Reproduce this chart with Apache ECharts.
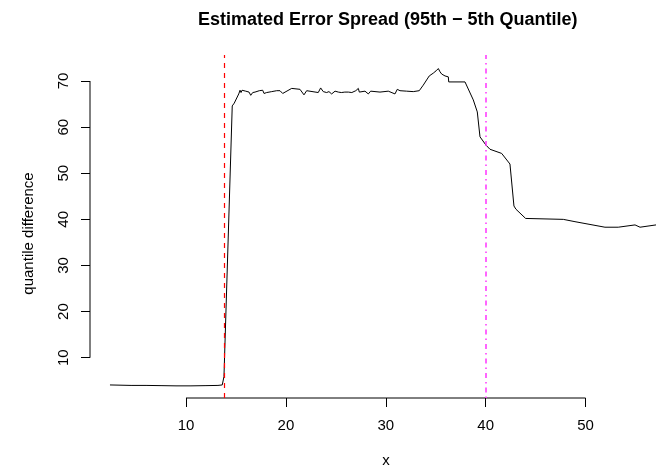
<!DOCTYPE html>
<html>
<head>
<meta charset="utf-8">
<script src="https://cdn.jsdelivr.net/npm/echarts@6/dist/echarts.min.js"></script>
<style>
html,body{margin:0;padding:0;background:#fff;}
#chart{width:656px;height:474px;}
</style>
</head>
<body>
<div id="chart"></div>
<script>
// ---- data ----
const xValues = [2.39, 4.5, 6.0, 7.5, 9.0, 10.5, 12.0, 13.2, 13.63, 13.80, 14.63, 14.83, 15.28, 15.41, 15.51, 15.61, 15.81, 15.98, 16.14, 16.31, 16.48, 16.68, 16.91, 17.34, 17.68, 17.81, 18.08, 18.58, 19.08, 19.41, 19.68, 20.58, 21.41, 21.81, 22.08, 23.24, 23.48, 23.74, 24.08, 24.31, 24.58, 24.92, 25.1, 25.25, 25.4, 25.55, 25.75, 25.9, 26.05, 26.25, 26.45, 26.6, 26.75, 27.0, 27.25, 27.35, 27.92, 28.25, 28.49, 29.42, 30.25, 30.92, 31.15, 31.42, 32.09, 32.75, 33.35, 33.75, 34.35, 34.75, 35.03, 35.26, 35.43, 35.60, 35.76, 35.93, 36.26, 36.30, 37.93, 38.76, 39.16, 39.43, 40.03, 40.43, 41.60, 42.43, 42.83, 43.03, 44.00, 47.77, 47.94, 48.94, 51.94, 53.27, 54.95, 55.45, 57.05, 57.6];
const yValues = [4.1, 4.0, 4.0, 3.95, 3.9, 3.9, 3.95, 4.0, 4.1, 5.9, 64.6, 65.2, 67.2, 68.0, 67.5, 68.0, 68.3, 67.8, 67.9, 67.6, 66.9, 67.5, 67.6, 67.9, 68.0, 67.3, 67.5, 67.7, 67.9, 67.9, 67.3, 68.4, 68.2, 67.0, 67.9, 67.5, 68.5, 67.7, 67.5, 67.7, 67.2, 67.8, 67.5, 67.6, 67.9, 67.5, 67.8, 67.6, 67.9, 67.6, 67.8, 67.5, 67.8, 67.9, 68.4, 67.6, 67.8, 67.2, 67.8, 67.6, 67.8, 67.2, 68.2, 67.9, 67.8, 67.7, 67.9, 69.1, 71.1, 71.7, 72.2, 72.7, 72.0, 71.5, 71.7, 71.1, 70.9, 69.8, 69.8, 65.9, 63.3, 57.9, 56.1, 55.2, 54.3, 52.0, 42.9, 42.2, 40.2, 40.0, 40.4, 39.5, 38.3, 38.3, 38.8, 38.3, 38.8, 38.9];
const xTicks = [10, 20, 30, 40, 50];
const yTicks = [10, 20, 30, 40, 50, 60, 70];
const redLineX = 13.83;
const magentaLineX = 40;
const titleText = 'Estimated Error Spread (95th \u2212 5th Quantile)';
const xLabel = 'x';
const yLabel = 'quantile difference';

// ---- axis ranges (layout) ----
const xMin = 0.39, xMax = 57.05;
const yMin = 1.27, yMax = 75.64;

const FONT = '"Liberation Sans", Arial, Helvetica, sans-serif';
const lineData = xValues.map((x, i) => [x, yValues[i]]);

const chart = echarts.init(document.getElementById('chart'), null, {renderer: 'canvas'});
chart.setOption({
  animation: false,
  backgroundColor: '#ffffff',
  title: {
    text: titleText,
    left: 198, top: 11, padding: 0,
    textStyle: {fontFamily: FONT, fontSize: 18, fontWeight: 'bold', color: '#000'}
  },
  grid: {left: 90, right: 0, top: 55, bottom: 76, containLabel: false},
  xAxis: {
    type: 'value', min: xMin, max: xMax,
    name: xLabel, nameLocation: 'middle', nameGap: 55,
    nameTextStyle: {fontFamily: FONT, fontSize: 15, color: '#000', padding: [0, 0, 0, 26]},
    axisLine: {show: false, onZero: false},
    splitLine: {show: false},
    axisTick: {show: true, customValues: xTicks, length: 9, lineStyle: {color: '#000', width: 1}},
    axisLabel: {customValues: xTicks, margin: 20, fontFamily: FONT, fontSize: 15, color: '#000'}
  },
  yAxis: {
    type: 'value', min: yMin, max: yMax,
    name: yLabel, nameLocation: 'middle', nameGap: 54, nameRotate: 90,
    nameTextStyle: {fontFamily: FONT, fontSize: 15, color: '#000', padding: [0, 14, 0, 0]},
    axisLine: {show: false, onZero: false},
    splitLine: {show: false},
    axisTick: {show: true, customValues: yTicks, length: 9, lineStyle: {color: '#000', width: 1}},
    axisLabel: {customValues: yTicks, rotate: 90, margin: 19, fontFamily: FONT, fontSize: 15, color: '#000'}
  },
  series: [
    {
      type: 'line', data: lineData, symbol: 'none', clip: true, silent: true,
      lineStyle: {color: '#000', width: 1},
      markLine: {
        silent: true, symbol: 'none', label: {show: false},
        data: [
          {xAxis: redLineX, lineStyle: {color: '#ff0000', width: 1.2, type: [5, 5]}},
          {xAxis: magentaLineX, lineStyle: {color: '#ff33ff', width: 1.5, type: [1.5, 4, 5, 4]}}
        ]
      }
    },
    { // x axis line (from first to last tick, R style)
      type: 'line', data: [[xTicks[0], yMin], [xTicks[xTicks.length - 1], yMin]],
      symbol: 'none', clip: false, silent: true, lineStyle: {color: '#000', width: 1}
    },
    { // y axis line
      type: 'line', data: [[xMin, yTicks[0]], [xMin, yTicks[yTicks.length - 1]]],
      symbol: 'none', clip: false, silent: true, lineStyle: {color: '#000', width: 1}
    }
  ]
});
</script>
</body>
</html>
